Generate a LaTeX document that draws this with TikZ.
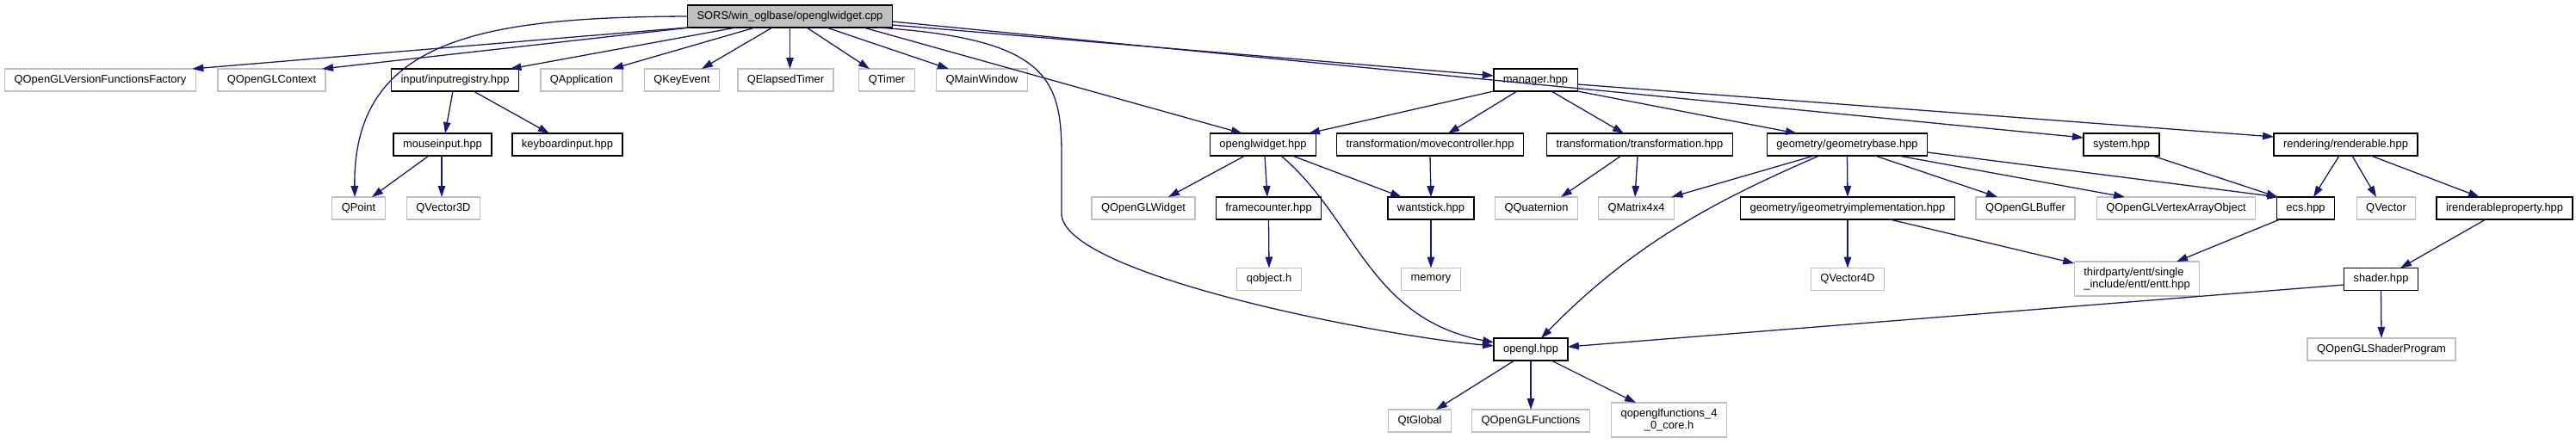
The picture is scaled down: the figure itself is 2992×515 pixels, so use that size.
\documentclass[tikz,border=0pt]{standalone}
\usepackage{fontspec}
\setmainfont{Liberation Sans}
\usetikzlibrary{arrows.meta}
\definecolor{edgec}{HTML}{191970}
\definecolor{extc}{HTML}{BFBFBF}
\begin{document}
\begin{tikzpicture}[x=1pt,y=-1pt,
  nd/.style={draw, line width=1.3pt, inner xsep=11pt, inner ysep=0pt, minimum height=26pt,
    outer sep=0pt, font=\fontsize{12.9}{14}\selectfont},
  doc/.style={nd, draw=black, fill=white},
  ext/.style={nd, draw=extc, fill=white},
  rootbox/.style={nd, draw=black, fill=extc},
  edge/.style={draw=edgec, line width=1.3pt, -{Triangle[length=13pt,width=8.5pt]}}]
\useasboundingbox (0,0) rectangle (2992,515);
% row 1
\node[rootbox] (root) at (917.5,19) {SORS/win\_oglbase/openglwidget.cpp};
% row 2
\node[ext] (vff) at (116.5,93) {QOpenGLVersionFunctionsFactory};
\node[ext] (ctx) at (315.5,93) {QOpenGLContext};
\node[doc] (inreg) at (528.5,93) {input/inputregistry.hpp};
\node[ext] (qapp) at (675.5,93) {QApplication};
\node[ext] (qkey) at (792,93) {QKeyEvent};
\node[ext] (qelt) at (912.5,93) {QElapsedTimer};
\node[ext] (qtimer) at (1030,93) {QTimer};
\node[ext] (qmw) at (1140.5,93) {QMainWindow};
\node[doc] (mgr) at (1783.5,93) {manager.hpp};
% row 3
\node[doc] (mouse) at (514,168) {mouseinput.hpp};
\node[doc] (kbd) at (659,168) {keyboardinput.hpp};
\node[doc] (oglw) at (1467,168) {openglwidget.hpp};
\node[doc] (movec) at (1661,168) {transformation/movecontroller.hpp};
\node[doc] (transf) at (1904.5,168) {transformation/transformation.hpp};
\node[doc] (geomb) at (2145.5,168) {geometry/geometrybase.hpp};
\node[doc] (system) at (2464,168) {system.hpp};
\node[doc] (rendb) at (2724.5,168) {rendering/renderable.hpp};
% row 4
\node[ext] (qpoint) at (416.5,242) {QPoint};
\node[ext] (qv3) at (515,242) {QVector3D};
\node[ext] (qglw) at (1328,242) {QOpenGLWidget};
\node[doc] (framec) at (1473.5,242) {framecounter.hpp};
\node[doc] (wantst) at (1662,242) {wantstick.hpp};
\node[ext] (qquat) at (1784.5,242) {QQuaternion};
\node[ext] (qm4) at (1900.5,242) {QMatrix4x4};
\node[doc] (igeom) at (2146,242) {geometry/igeometryimplementation.hpp};
\node[ext] (qbuf) at (2352.5,242) {QOpenGLBuffer};
\node[ext] (vao) at (2527.5,242) {QOpenGLVertexArrayObject};
\node[doc] (ecs) at (2678,242) {ecs.hpp};
\node[ext] (qvec) at (2771.5,242) {QVector};
\node[doc] (irend) at (2909,242) {irenderableproperty.hpp};
% row 5
\node[ext] (qobj) at (1474,324.5) {qobject.h};
\node[ext] (memory) at (1662,324.5) {memory};
\node[ext] (qv4) at (2146,324.5) {QVector4D};
\node[ext, minimum height=40pt, align=left] (entt) at (2482,324) {thirdparty/entt/single\\\_include/entt/entt.hpp};
\node[doc] (shader) at (2765.5,324.5) {shader.hpp};
% row 6
\node[doc] (opengl) at (1778,406) {opengl.hpp};
\node[ext] (qsp) at (2766,406) {QOpenGLShaderProgram};
% row 7
\node[ext] (qtglobal) at (1649,489) {QtGlobal};
\node[ext] (qglf) at (1778,489) {QOpenGLFunctions};
\node[ext, minimum height=40pt, align=center] (qglf40) at (1938.5,488) {qopenglfunctions\_4\\\_0\_core.h};

% edges from root
\draw[edge] (root.south west) -- ([xshift=-4pt]vff.north east);
\draw[edge] ([xshift=3pt]root.south west) -- ([xshift=-4pt]ctx.north east);
\draw[edge] (root.west) .. controls (560,20) and (410,45) .. ([xshift=-4.5pt]qpoint.north);
\draw[edge] ([xshift=-62.5pt]root.south) -- ([xshift=-10pt]inreg.north east);
\draw[edge] ([xshift=-40.5pt]root.south) -- ([xshift=-12pt]qapp.north east);
\draw[edge] ([xshift=-20.5pt]root.south) -- ([xshift=23pt]qkey.north);
\draw[edge] (root.south) -- ([xshift=5pt]qelt.north);
\draw[edge] ([xshift=19.5pt]root.south) -- ([xshift=-20pt]qtimer.north);
\draw[edge] ([xshift=42.5pt]root.south) -- ([xshift=-38.5pt]qmw.north);
\draw[edge] ([xshift=85.5pt]root.south) -- ([xshift=-24pt]oglw.north);
\draw[edge] ([yshift=-10pt]root.east) -- ([yshift=5pt]mgr.west);
\draw[edge] ([yshift=-6pt]root.east) -- ([yshift=8pt]system.west);
\draw[edge] ([xshift=101.5pt]root.south) .. controls (1215,45) and (1233,90) .. (1233,180)
   -- (1233,250) .. controls (1240,320) and (1600,390) .. ([yshift=4pt]opengl.west);
% inputregistry / mouseinput
\draw[edge] ([xshift=-2.5pt]inreg.south) -- ([xshift=3pt]mouse.north);
\draw[edge] ([xshift=21.5pt]inreg.south) -- ([xshift=-21pt]kbd.north);
\draw[edge] ([xshift=-16pt]mouse.south) -- ([xshift=15.5pt]qpoint.north);
\draw[edge] ([xshift=-1pt]mouse.south) -- ([xshift=-2pt]qv3.north);
% manager
\draw[edge] (mgr.south west) -- ([xshift=53pt]oglw.north);
\draw[edge] ([xshift=-21.5pt]mgr.south) -- ([xshift=21pt]movec.north);
\draw[edge] ([xshift=18.5pt]mgr.south) -- ([xshift=-18.5pt]transf.north);
\draw[edge] (mgr.south east) -- ([xshift=-58.5pt]geomb.north);
\draw[edge] ([yshift=-5pt]mgr.east) -- ([yshift=9pt]rendb.west);
% openglwidget.hpp
\draw[edge] ([xshift=-21pt]oglw.south) -- ([xshift=29pt]qglw.north);
\draw[edge] ([xshift=2pt]oglw.south) -- ([xshift=-1.5pt]framec.north);
\draw[edge] ([xshift=34pt]oglw.south) -- ([xshift=-34pt]wantst.north);
\draw[edge] ([xshift=21pt]oglw.south) .. controls (1575,255) and (1590,370) .. ([yshift=8pt]opengl.west);
% movecontroller / transformation
\draw[edge] (movec.south) -- (wantst.north);
\draw[edge] ([xshift=-21.5pt]transf.south) -- ([xshift=28.5pt]qquat.north);
\draw[edge] ([xshift=-2.5pt]transf.south) -- ([xshift=-1.5pt]qm4.north);
% geometrybase
\draw[edge] ([xshift=-38.5pt]geomb.south) -- ([xshift=-3pt]qm4.north east);
\draw[edge] ([xshift=-32.5pt]geomb.south) .. controls (2000,230) and (1900,280) .. ([xshift=12pt]opengl.north);
\draw[edge] (geomb.south) -- (igeom.north);
\draw[edge] ([xshift=32.5pt]geomb.south) -- ([xshift=-32.5pt]qbuf.north);
\draw[edge] ([xshift=59.5pt]geomb.south) -- ([xshift=-59.5pt]vao.north);
\draw[edge] ([yshift=-9pt]geomb.east) -- ([xshift=2pt]ecs.north west);
\draw[edge] ([xshift=36pt]system.south) -- ([xshift=1pt]ecs.north west);
% renderable
\draw[edge] ([xshift=-7.5pt]rendb.south) -- ([xshift=9pt]ecs.north);
\draw[edge] ([xshift=7.5pt]rendb.south) -- ([xshift=-11.5pt]qvec.north);
\draw[edge] ([xshift=29.5pt]rendb.south) -- ([xshift=-29pt]irend.north);
\draw[edge] ([xshift=-22pt]irend.south) -- ([xshift=22.5pt]shader.north);
\draw[edge] ([yshift=-6.5pt]shader.west) -- ([yshift=3pt]opengl.east);
\draw[edge] (shader.south) -- (qsp.north);
% lower
\draw[edge] (framec.south) -- (qobj.north);
\draw[edge] (wantst.south) -- (memory.north);
\draw[edge] (igeom.south) -- (qv4.north);
\draw[edge] ([xshift=49pt]igeom.south) -- ([yshift=-2pt]entt.north west);
\draw[edge] ([xshift=3.5pt]ecs.south west) -- ([xshift=46pt]entt.north);
\draw[edge] ([xshift=-19pt]opengl.south) -- ([xshift=19pt]qtglobal.north);
\draw[edge] (opengl.south) -- (qglf.north);
\draw[edge] ([xshift=24pt]opengl.south) -- ([xshift=-38.5pt]qglf40.north);
\end{tikzpicture}
\end{document}
